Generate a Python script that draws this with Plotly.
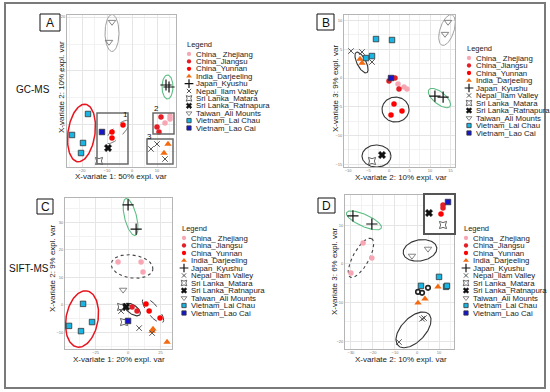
import numpy as np
import plotly.graph_objects as go

W, H = 550, 392

categories = ["China_ Zhejiang", "China_Jiangsu", "China_Yunnan", "India_Darjeeling",
              "Japan_Kyushu", "Nepal_Ilam Valley", "Sri Lanka_Matara", "Sri Lanka_Ratnapura",
              "Taiwan_Ali Mounts", "Vietnam_Lai Chau", "Vietnam_Lao Cai"]

# GC-MS, X-variate 1 vs X-variate 2
gcms_12 = {
    "China_ Zhejiang": ([15.2, 15.2, 13.2], [1.67, 1.11, 0.37]),
    "China_Jiangsu": ([11.6, 10.0, 10.8], [1.48, -0.37, -1.30]),
    "China_Yunnan": ([-3.6, -8.0, -8.0], [0.0, -1.30, -2.41]),
    "India_Darjeeling": ([14.4, 12.8], [-3.52, -5.19]),
    "Japan_Kyushu": ([13.6, 14.8], [7.41, 7.04]),
    "Nepal_Ilam Valley": ([7.6, 10.0, 13.2], [-4.44, -3.52, -6.30]),
    "Sri Lanka_Matara": ([-13.2], [-6.67]),
    "Sri Lanka_Ratnapura": ([-9.6], [-4.26]),
    "Taiwan_Ali Mounts": ([-8.0, -9.2], [19.07, 15.37]),
    "Vietnam_Lai Chau": ([-17.6, -24.0, -19.6, -20.4], [2.04, -1.85, -3.33, -5.19]),
    "Vietnam_Lao Cai": ([-12.0], [-1.30]),
}

# GC-MS, X-variate 2 vs X-variate 3
gcms_23 = {
    "China_ Zhejiang": ([2.2, 3.66, 4.39], [-1.05, -1.57, -1.92]),
    "China_Jiangsu": ([1.46, 0.0, 2.44], [0.0, -0.52, -1.92]),
    "China_Yunnan": ([1.22, 3.17, 0.49], [-4.53, -5.75, -6.45]),
    "India_Darjeeling": ([-7.07, -6.59], [3.31, 2.61]),
    "Japan_Kyushu": ([11.2, 13.2], [-3.14, -3.31]),
    "Nepal_Ilam Valley": ([-9.27, -6.59, -4.15], [4.70, 4.53, 2.79]),
    "Sri Lanka_Matara": ([-4.15], [-14.46]),
    "Sri Lanka_Ratnapura": ([-1.71], [-13.41]),
    "Taiwan_Ali Mounts": ([14.4, 13.66], [9.76, 7.67]),
    "Vietnam_Lai Chau": ([-3.17, 0.73, -4.15, -5.61], [6.79, 6.62, 3.83, 3.48]),
    "Vietnam_Lao Cai": ([0.49], [0.0]),
}

# SIFT-MS, X-variate 1 vs X-variate 2
sift_12 = {
    "China_ Zhejiang": ([-7.7, 10.0, 11.5], [15.6, 15.6, 12.0]),
    "China_Jiangsu": ([3.1, 6.9], [-0.7, -2.2]),
    "China_Yunnan": ([13.8, 16.2, 24.6], [0.4, -2.2, -4.7]),
    "India_Darjeeling": ([18.5, 19.2, 30.0], [-9.5, -8.7, -13.5]),
    "Japan_Kyushu": ([0.0, 6.2], [36.4, 27.6]),
    "Nepal_Ilam Valley": ([-5.4, 8.5, 18.5], [-2.2, -8.4, -10.2]),
    "Sri Lanka_Matara": ([-5.4, -3.1], [-0.7, -6.2]),
    "Sri Lanka_Ratnapura": ([-1.5], [-0.7]),
    "Taiwan_Ali Mounts": ([-3.8], [5.5]),
    "Vietnam_Lai Chau": ([-34.6, -27.7, -36.2, -45.4], [0.4, -6.2, -9.5, -7.6]),
    "Vietnam_Lao Cai": ([0.0], [-5.8]),
}

# SIFT-MS, X-variate 2 vs X-variate 3 (main view)
sift_23 = {
    "China_ Zhejiang": ([-24.5, -20.5, -30.0], [5.4, 1.55, -2.33]),
    "India_Darjeeling": ([9.5, 3.6, 0.45], [-5.94, -9.04, -10.1]),
    "Japan_Kyushu": ([-29.1, -20.5], [12.4, 10.3]),
    "Nepal_Ilam Valley": ([2.3, 3.2, -8.2], [-14.2, -14.0, -20.2]),
    "Taiwan_Ali Mounts": ([-2.3, 5.0], [2.07, 3.88]),
    "Vietnam_Lai Chau": ([10.0, 1.8, 13.2, 13.6], [-3.36, -5.68, -5.94, -5.68]),
}
sift_23_other_x = [0.45, 2.3, 5.0]
sift_23_other_y = [-7.24, -7.49, -6.2]

# SIFT-MS, X-variate 2 vs X-variate 3 (inset, outlying samples)
sift_23_inset = {
    "China_Jiangsu": ([18, 18], [28, 25]),
    "China_Yunnan": ([16], [19]),
    "Sri Lanka_Matara": ([18], [8]),
    "Sri Lanka_Ratnapura": ([4], [20]),
    "Vietnam_Lao Cai": ([23], [31]),
}

styles = {
    "China_ Zhejiang": dict(symbol="circle", color="#F7A7B4", size=5.5, line=dict(width=0)),
    "China_Jiangsu": dict(symbol="circle", color="#E41E26", size=5.5, line=dict(width=0)),
    "China_Yunnan": dict(symbol="circle", color="#FF0000", size=5.5, line=dict(width=0)),
    "India_Darjeeling": dict(symbol="triangle-up", color="#F36A10", size=6.5, line=dict(width=0)),
    "Japan_Kyushu": dict(symbol="cross-thin", color="#111111", size=8, line=dict(width=1.2, color="#111111")),
    "Nepal_Ilam Valley": dict(symbol="x-thin", color="#444444", size=5.5, line=dict(width=0.9, color="#444444")),
    "Sri Lanka_Matara": dict(symbol="star-square-open", color="#555555", size=6.5, line=dict(width=0.9, color="#555555")),
    "Sri Lanka_Ratnapura": dict(symbol="x", color="#111111", size=6.5, line=dict(width=0.5, color="#111111")),
    "Taiwan_Ali Mounts": dict(symbol="triangle-down-open", color="#777777", size=6.5, line=dict(width=0.9, color="#777777")),
    "Vietnam_Lai Chau": dict(symbol="square", color="#19B5E3", size=5.5, line=dict(width=0.8, color="#333333")),
    "Vietnam_Lao Cai": dict(symbol="square", color="#1515CC", size=5.5, line=dict(width=0.8, color="#333333")),
}

# panel layout (pixel boxes) and axis ranges
panels = {
    "A": dict(n=2, px=(67, 176), py=(15, 167), xr=(-26.0, 17.6), yr=(-7.78, 20.37), xdt=10, ydt=10),
    "B": dict(n=3, px=(344, 455), py=(15, 167), xr=(-10.98, 16.1), yr=(-15.5, 10.98), xdt=5, ydt=5),
    "C": dict(n=4, px=(65, 172), py=(198, 349), xr=(-48.5, 33.8), yr=(-16.0, 38.9), xdt=25, ydt=10),
    "D": dict(n=5, px=(345, 454), py=(195, 349), xr=(-32.7, 16.8), yr=(-22.0, 17.8), xdt=10, ydt=10),
}
inset = dict(n=6, px=(425, 454), py=(195, 233), xr=(0, 29), yr=(0, 38))

fig = go.Figure()
font_family = "Liberation Sans, Arial, sans-serif"


def ellipse(p, cx, cy, a, b, ang):
    sx = (p["px"][1] - p["px"][0]) / (p["xr"][1] - p["xr"][0])
    sy = (p["py"][1] - p["py"][0]) / (p["yr"][1] - p["yr"][0])
    t = np.linspace(0, 2 * np.pi, 120)
    th = np.radians(ang)
    dx = a * np.cos(t) * np.cos(th) - b * np.sin(t) * np.sin(th)
    dy = a * np.cos(t) * np.sin(th) + b * np.sin(t) * np.cos(th)
    return cx + dx / sx, cy + dy / sy


RED, GREEN, GRAY, DARK = "#E8141E", "#5DBE84", "#A0A0A0", "#333333"
ellipses = {
    "A": [(-8.0, 17.04, 18.5, 7, 90, GRAY, "solid", 1.0),
          (14.2, 7.04, 12, 5.5, 90, GREEN, "solid", 1.1),
          (-20.2, -1.48, 29, 13.5, 82, RED, "solid", 1.5),
          (-5.8, -1.3, 15.5, 5.5, 45, "#666666", "dash", 0.9)],
    "B": [(14.15, 8.36, 16, 7, 72, GRAY, "solid", 1.0),
          (-6.71, 2.70, 11.5, 4.5, 117, DARK, "solid", 1.1),
          (12.3, -3.48, 13.5, 6, -39, GREEN, "solid", 1.1),
          (1.59, -5.49, 13.5, 12.5, 0, DARK, "solid", 1.1),
          (-3.05, -13.59, 14.5, 11, 0, DARK, "solid", 1.1)],
    "C": [(1.92, 32.0, 19, 6, 104, GREEN, "solid", 1.1),
          (3.08, 14.0, 21, 11.5, -8, "#444444", "dot", 1.1),
          (-35.4, -5.09, 28.5, 16, 80, RED, "solid", 1.5),
          (3.46, -1.64, 9, 4.5, -35, DARK, "solid", 1.1),
          (19.2, -2.0, 15.5, 5.5, -51, "#444444", "dash", 1.0)],
    "D": [(-24.1, 11.24, 19, 6, -24, GREEN, "solid", 1.1),
          (-25.45, 1.55, 22, 8, 61, "#444444", "dot", 1.1),
          (1.36, 3.49, 17, 10.5, 10, DARK, "solid", 1.1),
          (-1.59, -17.05, 22, 12, 46, DARK, "solid", 1.1)],
}

# overlay axis for legend keys (whole figure, pixel units)
legend_pos = {"A": (185, 44, 54, 7.4), "B": (465, 48, 58, 7.5), "C": (180, 228, 238, 7.5), "D": (462, 228, 238, 7.5)}
annotations = []
for key, (lx, ty, y0, dy) in legend_pos.items():
    annotations.append(dict(x=lx, y=ty, xref="x", yref="y", text="Legend", showarrow=False,
                            xanchor="left", yanchor="middle", font=dict(size=7.5, color="#222")))
    for i, cat in enumerate(categories):
        st = dict(styles[cat])
        st["size"] = st["size"] * 0.78
        fig.add_trace(go.Scatter(x=[lx + 4], y=[y0 + i * dy], mode="markers", marker=st,
                                 xaxis="x", yaxis="y", showlegend=False, hoverinfo="skip"))
        annotations.append(dict(x=lx + 9, y=y0 + i * dy, xref="x", yref="y", text=cat, showarrow=False,
                                xanchor="left", yanchor="middle", font=dict(size=7.8, color="#222")))

layout = dict(
    width=W, height=H, margin=dict(l=0, r=0, t=0, b=0),
    paper_bgcolor="white", plot_bgcolor="white", showlegend=False,
    font=dict(family=font_family, color="#222"),
    xaxis=dict(domain=[0, 1], range=[0, W], visible=False, fixedrange=True),
    yaxis=dict(domain=[0, 1], range=[H, 0], visible=False, fixedrange=True),
)

datasets = {"A": gcms_12, "B": gcms_23, "C": sift_12, "D": sift_23}
for key, p in panels.items():
    n = p["n"]
    common = dict(showgrid=True, gridcolor="#E5E5E5", gridwidth=0.6, zeroline=False,
                  showline=True, mirror=True, linecolor="#B5B5B5", linewidth=1, ticks="",
                  tickfont=dict(size=4, color="#777"), fixedrange=True, tick0=0)
    layout[f"xaxis{n}"] = dict(common, domain=[p["px"][0] / W, p["px"][1] / W], range=list(p["xr"]),
                               anchor=f"y{n}", dtick=p["xdt"], ticklabelstandoff=-1,
                               minor=dict(dtick=p["xdt"] / 2, showgrid=True, gridcolor="#F2F2F2", gridwidth=0.4))
    layout[f"yaxis{n}"] = dict(common, domain=[1 - p["py"][1] / H, 1 - p["py"][0] / H], range=list(p["yr"]),
                               anchor=f"x{n}", dtick=p["ydt"],
                               minor=dict(dtick=p["ydt"] / 2, showgrid=True, gridcolor="#F2F2F2", gridwidth=0.4))
    for (cx, cy, a, b, ang, col, dash, lw) in ellipses[key]:
        ex, ey = ellipse(p, cx, cy, a, b, ang)
        fig.add_trace(go.Scatter(x=ex, y=ey, mode="lines", line=dict(color=col, width=lw, dash=dash),
                                 xaxis=f"x{n}", yaxis=f"y{n}", showlegend=False, hoverinfo="skip"))
    for cat in categories:
        if cat in datasets[key]:
            xs, ys = datasets[key][cat]
            fig.add_trace(go.Scatter(x=xs, y=ys, mode="markers", marker=styles[cat], name=cat,
                                     xaxis=f"x{n}", yaxis=f"y{n}", showlegend=False, cliponaxis=False))

# unassigned markers in panel D
fig.add_trace(go.Scatter(x=sift_23_other_x, y=sift_23_other_y, mode="markers",
                         marker=dict(symbol="circle-open", size=4.5, color="#222", line=dict(width=1.6, color="#222")),
                         xaxis="x5", yaxis="y5", showlegend=False))

# inset in panel D
n = inset["n"]
layout[f"xaxis{n}"] = dict(domain=[inset["px"][0] / W, inset["px"][1] / W], range=list(inset["xr"]), anchor=f"y{n}",
                           showgrid=False, zeroline=False, showticklabels=False, ticks="", showline=True,
                           mirror=True, linecolor="#555", linewidth=1.5, fixedrange=True)
layout[f"yaxis{n}"] = dict(domain=[1 - inset["py"][1] / H, 1 - inset["py"][0] / H], range=list(inset["yr"]),
                           anchor=f"x{n}", showgrid=False, zeroline=False, showticklabels=False, ticks="",
                           showline=True, mirror=True, linecolor="#555", linewidth=1.5, fixedrange=True)
for cat in categories:
    if cat in sift_23_inset:
        xs, ys = sift_23_inset[cat]
        fig.add_trace(go.Scatter(x=xs, y=ys, mode="markers", marker=styles[cat], name=cat,
                                 xaxis=f"x{n}", yaxis=f"y{n}", showlegend=False))

shapes = []
# outer frame
shapes.append(dict(type="rect", xref="x", yref="y", x0=5, y0=3, x1=545, y1=388,
                   line=dict(color="#7A7A7A", width=2), fillcolor="rgba(0,0,0,0)"))
# panel letters
letter_boxes = {"A": (40, 14, 60, 31), "B": (317, 14, 334, 30), "C": (37, 199, 53, 214), "D": (318, 198, 335, 213)}
for letter, (x0, y0, x1, y1) in letter_boxes.items():
    shapes.append(dict(type="rect", xref="x", yref="y", x0=x0, y0=y0, x1=x1, y1=y1,
                       line=dict(color="#111", width=1), fillcolor="white"))
    annotations.append(dict(x=(x0 + x1) / 2, y=(y0 + y1) / 2 + 0.5, xref="x", yref="y", text=letter,
                            showarrow=False, font=dict(size=12, color="#111")))

# boxes 1-3 in panel A
boxes_A = {"1": ((-14.0, -1.6, -7.22, 2.22), (-2.8, 1.85)),
           "2": ((8.4, 16.8, -1.67, 2.22), (9.6, 3.1)),
           "3": ((6.0, 16.4, -7.22, -2.59), (6.8, -2.04))}
for lab, ((x0, x1, y0, y1), (tx, ty)) in boxes_A.items():
    shapes.append(dict(type="rect", xref="x2", yref="y2", x0=x0, x1=x1, y0=y0, y1=y1,
                       line=dict(color="#6A6A6A", width=1.5), fillcolor="rgba(0,0,0,0)"))
    annotations.append(dict(x=tx, y=ty, xref="x2", yref="y2", text=lab, showarrow=False,
                            font=dict(size=8, color="#111")))

# method labels
annotations.append(dict(x=33, y=89, xref="x", yref="y", text="GC-MS", showarrow=False, font=dict(size=10, color="#111")))
annotations.append(dict(x=29, y=268, xref="x", yref="y", text="SIFT-MS", showarrow=False, font=dict(size=10, color="#111")))

# axis titles
titles = [
    (121, 176.5, "X-variate 1: 50% expl. var", 0), (61, 87, "X-variate 2: 10% expl. var", -90),
    (401, 177.5, "X-variate 2: 10% expl. var", 0), (335, 89, "X-variate 3: 9% expl. var", -90),
    (119, 359.5, "X-variate 1: 20% expl. var", 0), (52, 269, "X-variate 2: 9% expl. var", -90),
    (401, 359.5, "X-variate 2: 10% expl. var", 0), (334, 272, "X-variate 3: 6% expl. var", -90),
]
for (tx, ty, txt, ang) in titles:
    annotations.append(dict(x=tx, y=ty, xref="x", yref="y", text=txt, showarrow=False, textangle=ang,
                            font=dict(size=8, color="#222")))

layout["shapes"] = shapes
layout["annotations"] = annotations
fig.update_layout(**layout)
fig.write_html("out.html", config={"displayModeBar": False},
               post_script="document.body.style.margin='0';document.body.style.overflow='hidden';")
